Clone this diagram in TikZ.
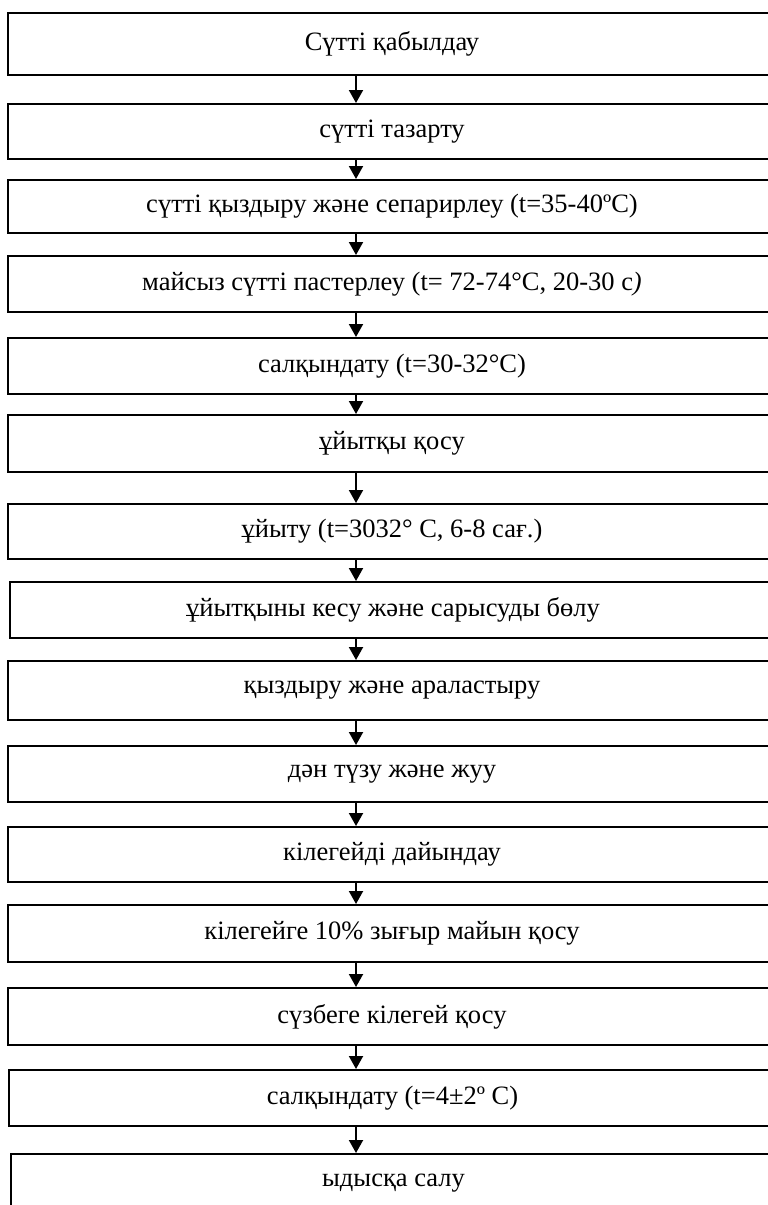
\documentclass[tikz,border=0pt]{standalone}
\usepackage{fontspec}
\setmainfont{Liberation Serif}
\usetikzlibrary{arrows.meta}
\tikzset{
  box/.style={draw=black, line width=2pt, rectangle, inner sep=0pt,
    font=\fontsize{26.5}{30}\selectfont, text=black},
  arr/.style={line width=2pt, -{Triangle[width=14pt,length=13pt]}}
}
% \stepbox{name}{left}{top}{bottom}{text}
\newcommand{\stepbox}[5]{%
  \node[box, minimum width={(776-#2)*1pt}, minimum height={(#4-#3)*1pt}]
    (#1) at ({(#2+776)/2},{-(#3+#4)/2}) {#5};}
\begin{document}
\begin{tikzpicture}[x=1pt,y=1pt]
\useasboundingbox (0,0) rectangle (768,-1205);
\fill[white] (0,0) rectangle (768,-1205);
\stepbox{b1}{8}{13}{75}{Сүтті қабылдау}
\stepbox{b2}{8}{104}{159}{сүтті тазарту}
\stepbox{b3}{8}{180}{233}{сүтті қыздыру және сепарирлеу (t=35-40ºC)}
\stepbox{b4}{8}{256}{312}{майсыз сүтті пастерлеу (t= 72-74°C, 20-30 с\textit{)}}
\stepbox{b5}{8}{338}{394}{салқындату (t=30-32°C)}
\stepbox{b6}{8}{415}{472}{ұйытқы қосу}
\stepbox{b7}{8}{504}{559}{ұйыту (t=3032° C, 6-8 сағ.)}
\stepbox{b8}{10}{582}{638}{ұйытқыны кесу және сарысуды бөлу}
\stepbox{b9}{8}{661}{720}{қыздыру және араластыру}
\stepbox{b10}{8}{746}{802}{дән түзу және жуу}
\stepbox{b11}{8}{827}{882}{кілегейді дайындау}
\stepbox{b12}{8}{905}{962}{кілегейге 10\% зығыр майын қосу}
\stepbox{b13}{8}{988}{1045}{сүзбеге кілегей қосу}
\stepbox{b14}{9}{1070}{1126}{салқындату (t=4±2º C)}
\stepbox{b15}{11}{1154}{1212}{ыдысқа салу}
\coordinate (ax) at (356,0);
\foreach \a/\b in {b1/b2,b2/b3,b3/b4,b4/b5,b5/b6,b6/b7,b7/b8,b8/b9,b9/b10,b10/b11,b11/b12,b12/b13,b13/b14,b14/b15}
  \draw[arr] (ax |- \a.south) -- (ax |- \b.north);
\end{tikzpicture}
\end{document}
